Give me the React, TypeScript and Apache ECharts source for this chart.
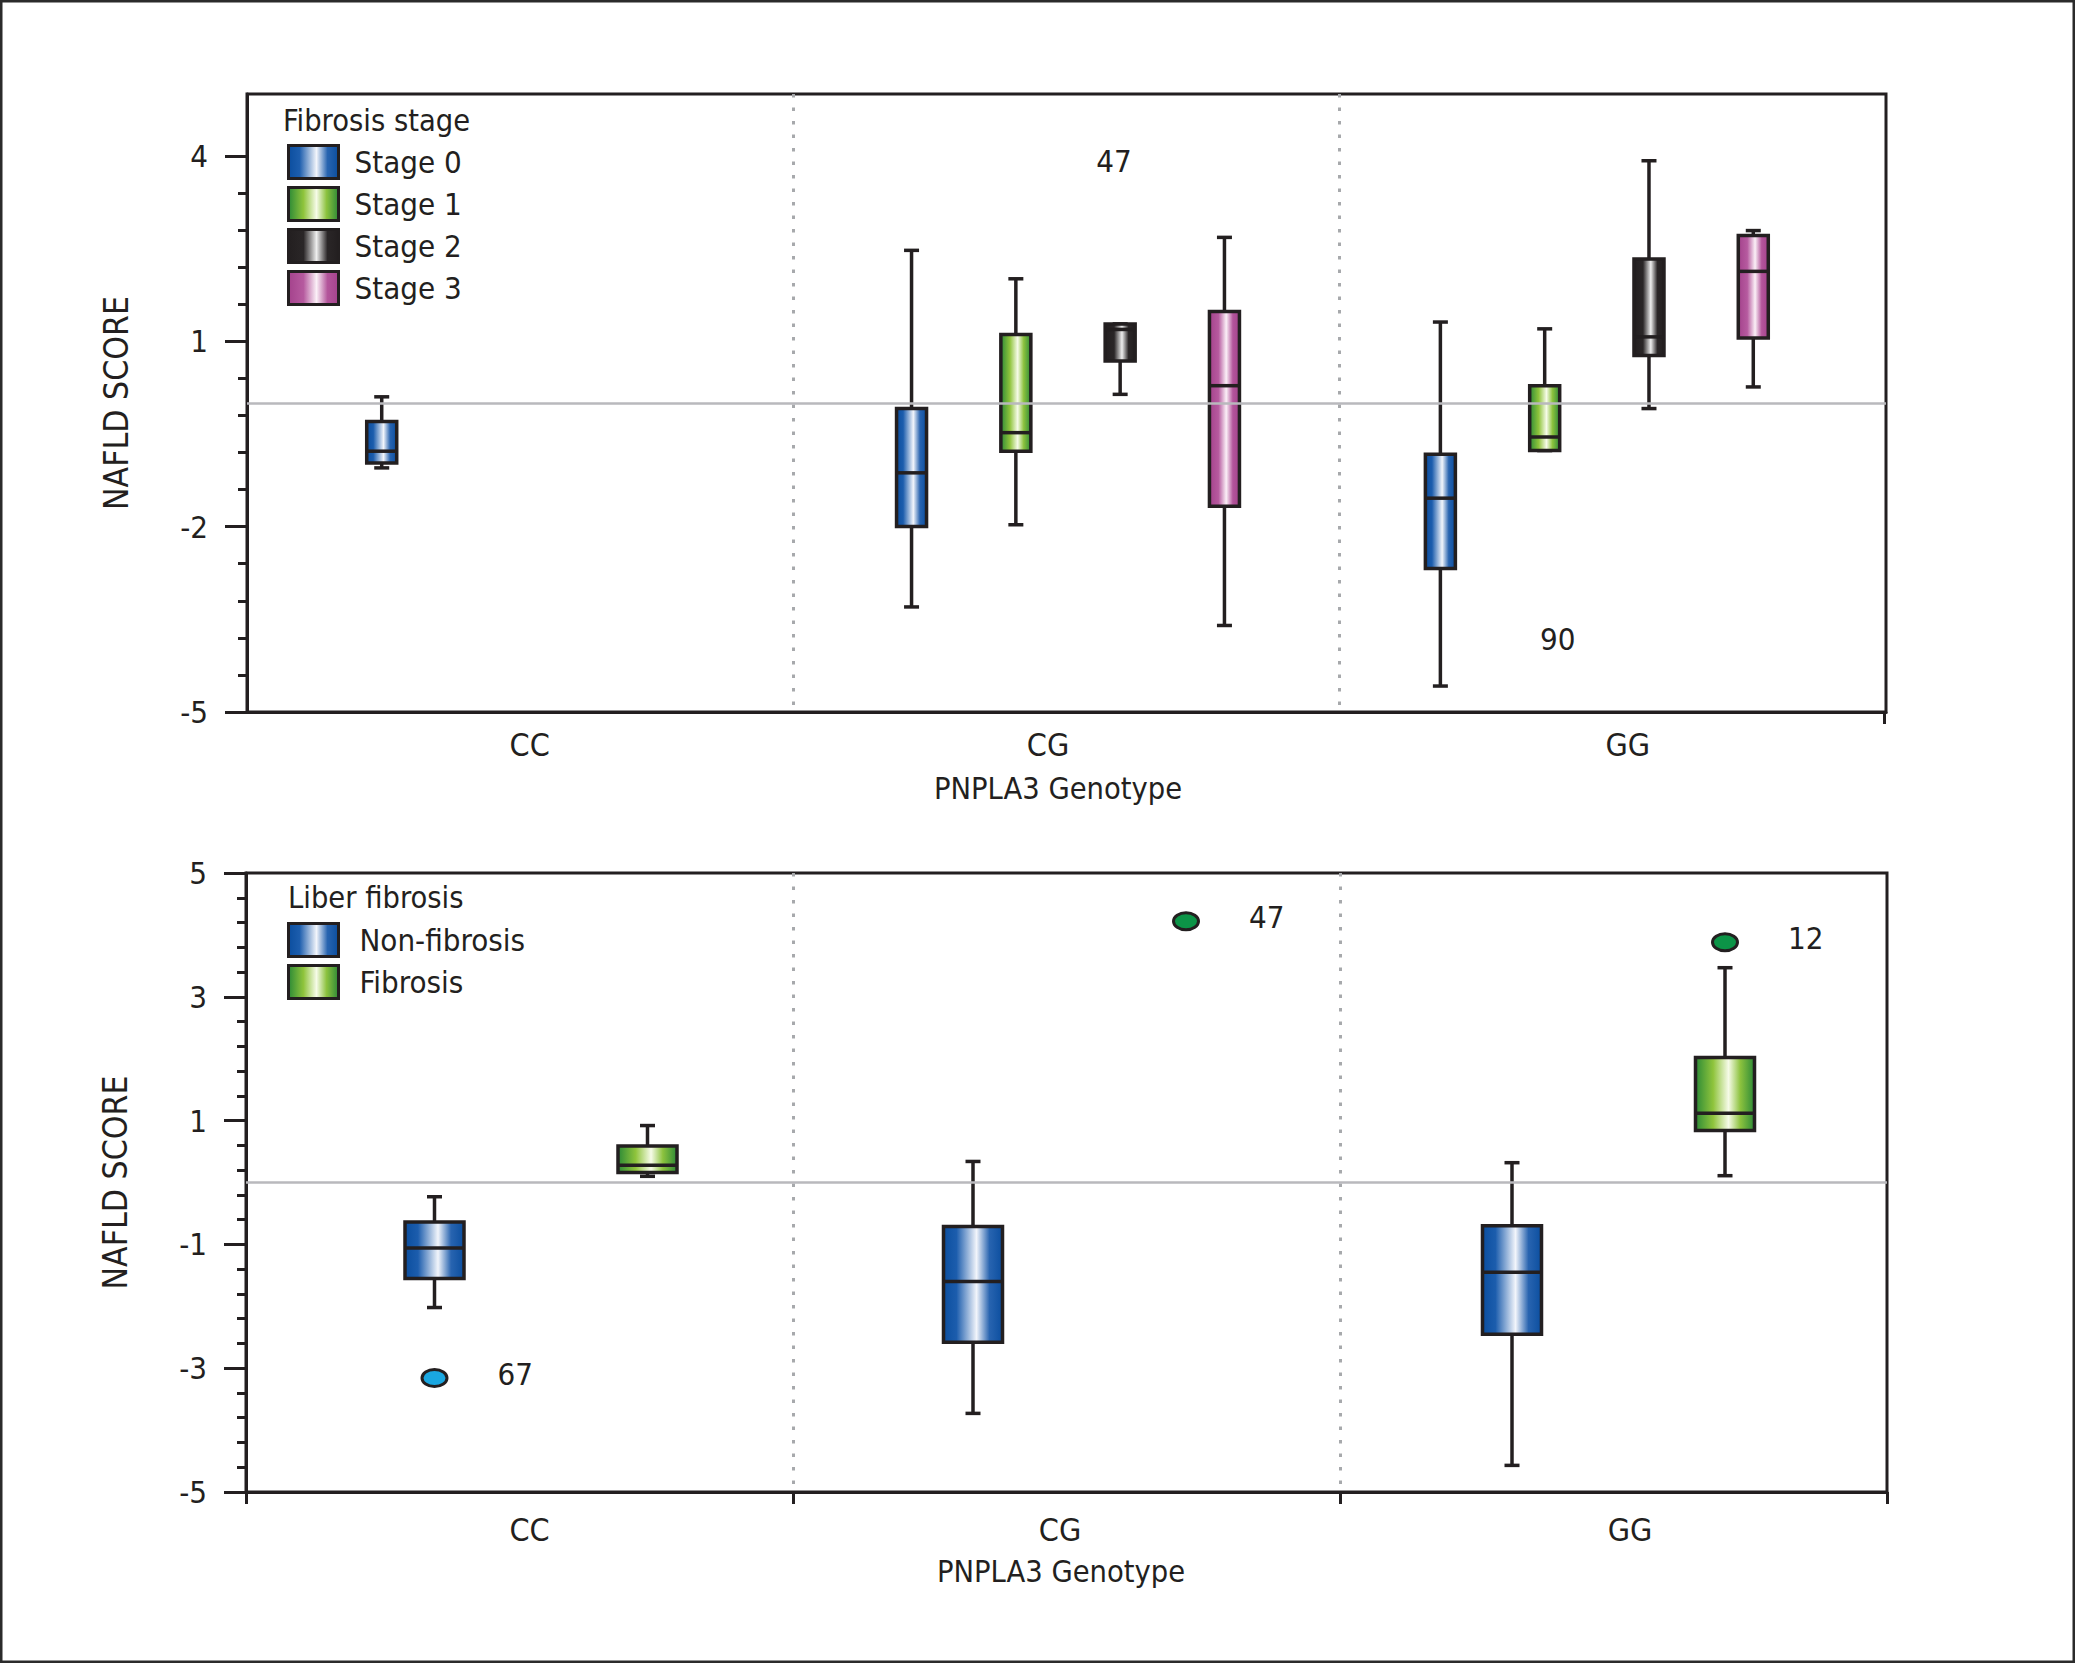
import React, { useEffect, useRef } from 'react';
import * as echarts from 'echarts';

const FONT = "'Liberation Sans Narrow', 'DejaVu Sans Condensed', 'Liberation Sans', sans-serif";
const INK = '#231f20';

// ---------- data ----------
const genotypes = ['CC', 'CG', 'GG'];

// Panel 1: fibrosis stage. Each row: [genotype index, min, Q1, median, Q3, max]
const stageNames = ['Stage 0', 'Stage 1', 'Stage 2', 'Stage 3'];
const stage0Boxes = [
  [0, -1.05, -0.97, -0.78, -0.3, 0.1],
  [1, -3.3, -2.0, -1.13, -0.09, 2.47],
  [2, -4.58, -2.68, -1.54, -0.83, 1.31],
];
const stage1Boxes = [
  [1, -1.97, -0.78, -0.48, 1.11, 2.01],
  [2, -0.77, -0.77, -0.55, 0.28, 1.2],
];
const stage2Boxes = [
  [1, 0.14, 0.68, 1.19, 1.28, 1.28],
  [2, -0.09, 0.77, 1.07, 2.33, 3.92],
];
const stage3Boxes = [
  [1, -3.6, -1.67, 0.28, 1.48, 2.68],
  [2, 0.26, 1.05, 2.13, 2.71, 2.79],
];
// case labels without visible marker: [genotype index, value, label]
const topCaseLabels: [number, number, string][] = [
  [1, 3.92, '47'],
  [2, -3.82, '90'],
];

// Panel 2: liver fibrosis
const fibrosisNames = ['Non-fibrosis', 'Fibrosis'];
const nonFibrosisBoxes = [
  [0, -2.02, -1.55, -1.06, -0.64, -0.23],
  [1, -3.73, -2.58, -1.6, -0.71, 0.34],
  [2, -4.57, -2.45, -1.45, -0.7, 0.32],
];
const fibrosisBoxes = [
  [0, 0.1, 0.16, 0.28, 0.59, 0.92],
  [2, 0.11, 0.84, 1.12, 2.02, 3.47],
];
const nonFibrosisOutliers: [number, number, string][] = [[0, -3.16, '67']];
const fibrosisOutliers: [number, number, string][] = [
  [1, 4.22, '47'],
  [2, 3.88, '12'],
];

// axis ticks
const topMajorTicks = [-5, -2, 1, 4];
const topMinorTicks = [-4.4, -3.8, -3.2, -2.6, -1.4, -0.8, -0.2, 0.4, 1.6, 2.2, 2.8, 3.4];
const bottomMajorTicks = [-5, -3, -1, 1, 3, 5];
const bottomMinorTicks = [
  -4.6, -4.2, -3.8, -3.4, -2.6, -2.2, -1.8, -1.4, -0.6, -0.2, 0.2, 0.6,
  1.4, 1.8, 2.2, 2.6, 3.4, 3.8, 4.2, 4.6,
];

// ---------- layout / styles ----------
const TOP_SLOT = 104.3;
const topCatShift = [18, 1.5, -16];
const topLabelDx = [47.5, -55];
const BOTTOM_SLOT = 213;
const bottomCatShift = [21.5, 13, 5];
const topCatLabelShift = [9.5, -18.5, 15];
const bottomCatLabelShift = [10, -6.5, 16.5];
const BOX_LW = 3.5;

function grad(stops: [number, string][]) {
  return new echarts.graphic.LinearGradient(
    0, 0, 1, 0,
    stops.map(([offset, color]) => ({ offset, color }))
  );
}
const blueFill = () => grad([[0, '#0b4e9f'], [0.22, '#1c5dad'], [0.56, '#f2f5fb'], [0.78, '#2864b0'], [1, '#0b4e9f']]);
const greenFill = () => grad([[0, '#2c8a36'], [0.3, '#8fc43c'], [0.56, '#f6fbe8'], [0.76, '#8cc23e'], [1, '#2c8a36']]);
const blackFill = () => grad([[0, '#231f20'], [0.3, '#2a2627'], [0.56, '#eeeeee'], [0.78, '#2a2627'], [1, '#231f20']]);
const pinkFill = () => grad([[0, '#a4428c'], [0.3, '#b65a9f'], [0.56, '#fbf0f7'], [0.78, '#b3559b'], [1, '#a4428c']]);

function boxRenderer(
  slot: number, slotCount: number, slotGap: number, catShift: number[],
  boxW: number, fill: () => any
) {
  return (params: any, api: any) => {
    const c = api.value(0);
    const cx = api.coord([c, 0])[0] + catShift[c] + (slot - (slotCount - 1) / 2) * slotGap;
    const y = (i: number) => api.coord([c, api.value(i)])[1];
    const yMin = y(1), yQ1 = y(2), yMed = y(3), yQ3 = y(4), yMax = y(5);
    const ls = { stroke: INK, lineWidth: BOX_LW };
    const cap = 7.5;
    return {
      type: 'group',
      children: [
        { type: 'line', shape: { x1: cx, y1: yMax, x2: cx, y2: yQ3 }, style: ls },
        { type: 'line', shape: { x1: cx, y1: yQ1, x2: cx, y2: yMin }, style: ls },
        { type: 'line', shape: { x1: cx - cap, y1: yMax, x2: cx + cap, y2: yMax }, style: ls },
        { type: 'line', shape: { x1: cx - cap, y1: yMin, x2: cx + cap, y2: yMin }, style: ls },
        {
          type: 'rect',
          shape: { x: cx - boxW / 2, y: yQ3, width: boxW, height: yQ1 - yQ3 },
          style: { fill: fill(), stroke: INK, lineWidth: BOX_LW },
        },
        { type: 'line', shape: { x1: cx - boxW / 2, y1: yMed, x2: cx + boxW / 2, y2: yMed }, style: ls },
      ],
    };
  };
}

function outlierRenderer(
  rows: [number, number, string][], slot: number, slotCount: number, slotGap: number,
  catShift: number[], color: string
) {
  return (params: any, api: any) => {
    const c = api.value(0);
    const cx = api.coord([c, 0])[0] + catShift[c] + (slot - (slotCount - 1) / 2) * slotGap;
    const cy = api.coord([c, api.value(1)])[1];
    return {
      type: 'group',
      children: [
        {
          type: 'ellipse',
          shape: { cx, cy, rx: 12.5, ry: 8.5 },
          style: { fill: color, stroke: INK, lineWidth: 3 },
        },
        {
          type: 'text',
          x: cx + 63,
          y: cy - 4,
          style: {
            text: rows[params.dataIndex][2],
            fill: INK, fontSize: 31, fontFamily: FONT,
            align: 'left', verticalAlign: 'middle',
          },
        },
      ],
    };
  };
}

function labelRenderer(rows: [number, number, string][], dx: number[]) {
  return (params: any, api: any) => {
    const c = api.value(0);
    const cx = api.coord([c, 0])[0] + dx[params.dataIndex];
    const cy = api.coord([c, api.value(1)])[1];
    return {
      type: 'text',
      x: cx,
      y: cy,
      style: {
        text: rows[params.dataIndex][2],
        fill: INK, fontSize: 31, fontFamily: FONT,
        align: 'center', verticalAlign: 'middle',
      },
    };
  };
}

function zeroLineSeries(xi: number, yi: number) {
  return {
    type: 'line', xAxisIndex: xi, yAxisIndex: yi, data: [], z: 1, silent: true,
    markLine: {
      silent: true, symbol: ['none', 'none'], label: { show: false },
      lineStyle: { color: '#b9b9bd', width: 2.5, type: 'solid' },
      data: [{ yAxis: 0 }],
    },
  };
}

function buildOption(): any {
  const lineStyle = { color: INK, width: 3 };
  const labelText = { color: INK, fontFamily: FONT };
  const catRich = (shifts: number[]) => {
    const rich: any = {};
    shifts.forEach((s, i) => {
      rich['c' + i] = {
        fontSize: 32, color: INK, fontFamily: FONT,
        padding: s >= 0 ? [0, 0, 0, 2 * s] : [0, -2 * s, 0, 0],
      };
    });
    return rich;
  };
  const xAxisBase = (gridIndex: number, margin: number, nameGap: number, ticks: boolean, shifts: number[], nameShift: number) => ({
    gridIndex, type: 'category', data: genotypes, position: 'bottom', boundaryGap: true,
    axisLine: { show: true, onZero: false, lineStyle },
    axisTick: { show: ticks, interval: 0, length: 12, lineStyle },
    axisLabel: {
      interval: 0, margin, fontSize: 32, ...labelText,
      formatter: (v: string, i: number) => `{c${i}|${v}}`,
      rich: catRich(shifts),
    },
    splitLine: {
      show: true, interval: 0, showMinLine: false, showMaxLine: false,
      lineStyle: { color: '#a7a9ac', width: 3, type: [3.5, 10] },
    },
    name: 'PNPLA3 Genotype', nameLocation: 'middle', nameGap,
    nameTextStyle: {
      fontSize: 30.5, ...labelText,
      padding: nameShift >= 0 ? [0, 0, 0, 2 * nameShift] : [0, -2 * nameShift, 0, 0],
    },
  });
  const yMajor = (gridIndex: number, min: number, max: number, ticks: number[]) => ({
    gridIndex, type: 'value', position: 'left', min, max,
    axisLine: { show: true, onZero: false, lineStyle },
    axisTick: { show: true, length: 22, customValues: ticks, lineStyle },
    axisLabel: { customValues: ticks, margin: 39, fontSize: 31, ...labelText },
    splitLine: { show: false },
    name: 'NAFLD SCORE', nameLocation: 'middle', nameGap: 114, nameRotate: 90,
    nameTextStyle: { fontSize: 33.5, ...labelText },
  });
  const yMinor = (gridIndex: number, min: number, max: number, ticks: number[]) => ({
    gridIndex, type: 'value', position: 'left', min, max,
    axisLine: { show: false, onZero: false },
    axisTick: { show: true, length: 9, customValues: ticks, lineStyle },
    axisLabel: { show: false },
    splitLine: { show: false },
  });

  const stageData = [stage0Boxes, stage1Boxes, stage2Boxes, stage3Boxes];
  const stageFills = [blueFill, greenFill, blackFill, pinkFill];
  const fibData = [nonFibrosisBoxes, fibrosisBoxes];
  const fibFills = [blueFill, greenFill];

  const legendBase = {
    orient: 'vertical', padding: 0, itemWidth: 50, itemHeight: 33, itemGap: 6,
    selectedMode: false, icon: 'rect',
    textStyle: { fontSize: 31, color: INK, fontFamily: FONT, padding: [0, 0, 0, 11] },
  };

  return {
    animation: false,
    backgroundColor: '#ffffff',
    grid: [
      { left: 247, top: 94, width: 1639, height: 618, show: true, borderColor: INK, borderWidth: 3, backgroundColor: 'transparent', containLabel: false, outerBoundsMode: 'none' },
      { left: 246, top: 873, width: 1641, height: 619, show: true, borderColor: INK, borderWidth: 3, backgroundColor: 'transparent', containLabel: false, outerBoundsMode: 'none' },
    ],
    xAxis: [
      xAxisBase(0, 17, 61, false, topCatLabelShift, -8.5),
      xAxisBase(1, 22, 64, true, bottomCatLabelShift, -5.5),
    ],
    yAxis: [
      yMajor(0, -5, 5, topMajorTicks),
      yMinor(0, -5, 5, topMinorTicks),
      yMajor(1, -5, 5, bottomMajorTicks),
      yMinor(1, -5, 5, bottomMinorTicks),
    ],
    legend: [
      {
        ...legendBase, left: 287, top: 144,
        data: stageNames.map((name, i) => ({
          name, icon: 'rect',
          itemStyle: { color: stageFills[i](), borderColor: INK, borderWidth: 3 },
        })),
      },
      {
        ...legendBase, left: 287, top: 922, textStyle: { ...legendBase.textStyle, padding: [0, 0, 0, 16] },
        data: fibrosisNames.map((name, i) => ({
          name, icon: 'rect',
          itemStyle: { color: fibFills[i](), borderColor: INK, borderWidth: 3 },
        })),
      },
    ],
    graphic: [
      {
        type: 'rect', silent: true, z: 100,
        shape: { x: 1.25, y: 1.25, width: 2072.5, height: 1660.5 },
        style: { fill: 'none', stroke: '#2b2b2b', lineWidth: 2.5 },
      },
      {
        // end tick of the upper panel's category axis
        type: 'line', silent: true,
        shape: { x1: 1884.5, y1: 712, x2: 1884.5, y2: 724 },
        style: { stroke: INK, lineWidth: 3 },
      },
      {
        type: 'text', x: 283, y: 120,
        style: { text: 'Fibrosis stage', fontSize: 30.5, fontFamily: FONT, fill: INK, verticalAlign: 'middle' },
      },
      {
        type: 'text', x: 288, y: 897,
        style: { text: 'Liber fibrosis', fontSize: 30.5, fontFamily: FONT, fill: INK, verticalAlign: 'middle' },
      },
    ],
    series: [
      zeroLineSeries(0, 0),
      ...stageNames.map((name, i) => ({
        type: 'custom', name, xAxisIndex: 0, yAxisIndex: 0, z: 3,
        encode: { x: 0, y: [1, 2, 3, 4, 5] },
        data: stageData[i],
        renderItem: boxRenderer(i, 4, TOP_SLOT, topCatShift, 30, stageFills[i]),
      })),
      {
        type: 'custom', name: 'case labels', xAxisIndex: 0, yAxisIndex: 0, z: 4,
        encode: { x: 0, y: 1 },
        data: topCaseLabels.map((r) => [r[0], r[1]]),
        renderItem: labelRenderer(topCaseLabels, topLabelDx),
      },
      zeroLineSeries(1, 2),
      ...fibrosisNames.map((name, i) => ({
        type: 'custom', name, xAxisIndex: 1, yAxisIndex: 2, z: 3,
        encode: { x: 0, y: [1, 2, 3, 4, 5] },
        data: fibData[i],
        renderItem: boxRenderer(i, 2, BOTTOM_SLOT, bottomCatShift, 59, fibFills[i]),
      })),
      {
        type: 'custom', name: 'Non-fibrosis outliers', xAxisIndex: 1, yAxisIndex: 2, z: 4,
        encode: { x: 0, y: 1 },
        data: nonFibrosisOutliers.map((r) => [r[0], r[1]]),
        renderItem: outlierRenderer(nonFibrosisOutliers, 0, 2, BOTTOM_SLOT, bottomCatShift, '#1aa7e1'),
      },
      {
        type: 'custom', name: 'Fibrosis outliers', xAxisIndex: 1, yAxisIndex: 2, z: 4,
        encode: { x: 0, y: 1 },
        data: fibrosisOutliers.map((r) => [r[0], r[1]]),
        renderItem: outlierRenderer(fibrosisOutliers, 1, 2, BOTTOM_SLOT, bottomCatShift, '#0c9447'),
      },
    ],
  };
}

export default function App() {
  const ref = useRef<HTMLDivElement>(null);
  useEffect(() => {
    if (!ref.current) return;
    const chart = echarts.init(ref.current, null, { renderer: 'svg' });
    chart.setOption(buildOption());
    return () => chart.dispose();
  }, []);
  return (
    <div
      ref={ref}
      style={{ position: 'absolute', left: 0, top: 0, width: 2075, height: 1663, background: '#ffffff' }}
    />
  );
}
